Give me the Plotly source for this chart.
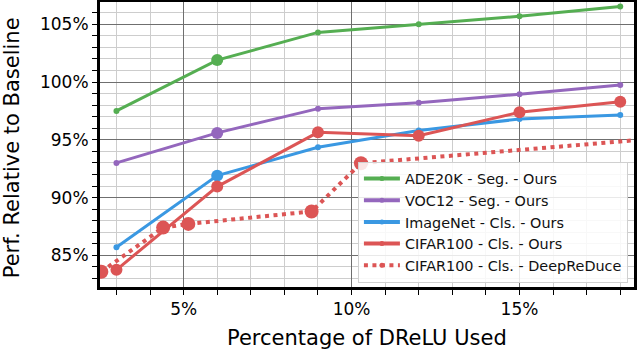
import plotly.graph_objects as go

# DReLU budget (%) used by our runs
drelu_pct = [3, 6, 9, 12, 15, 18]

ade20k_seg = [97.5, 101.9, 104.3, 105.0, 105.7, 106.55]
voc12_seg = [93.0, 95.6, 97.7, 98.2, 98.95, 99.75]
imagenet_cls = [85.7, 91.9, 94.35, 95.8, 96.8, 97.15]
cifar100_cls = [83.75, 90.95, 95.65, 95.35, 97.38, 98.3]

# DeepReDuce baseline on CIFAR100
deepreduce_pct = [2.55, 4.39, 5.14, 8.81, 10.28, 19.0]
deepreduce_perf = [83.58, 87.4, 87.72, 88.8, 92.97, 95.1]

x_ticks = [5, 10, 15]
y_ticks = [85, 90, 95, 100, 105]

FONT = "DejaVu Sans"
GREEN, PURPLE, BLUE, RED = "#55ae52", "#9467bd", "#3a98e2", "#dc5555"

fig = go.Figure()


def add_series(name, xs, ys, color, big_idx, dash="solid", big=12, small_pts=None):
    small_pts = range(len(xs)) if small_pts is None else small_pts
    fig.add_trace(go.Scatter(
        x=xs, y=ys, name=name, mode="lines",
        line=dict(color=color, width=3 if dash == "solid" else 4, dash=dash),
        showlegend=False))
    fig.add_trace(go.Scatter(
        x=[xs[i] for i in small_pts], y=[ys[i] for i in small_pts], mode="markers",
        marker=dict(color=color, size=6), showlegend=False))
    fig.add_trace(go.Scatter(
        x=[xs[i] for i in big_idx], y=[ys[i] for i in big_idx], mode="markers",
        marker=dict(color=color, size=big), showlegend=False))
    # legend entry only
    fig.add_trace(go.Scatter(
        x=[None], y=[None], name=name, mode="lines+markers",
        line=dict(color=color, width=4, dash=dash),
        marker=dict(color=color, size=5)))


add_series("ADE20K - Seg. - Ours", drelu_pct, ade20k_seg, GREEN, [1])
add_series("VOC12 - Seg. - Ours", drelu_pct, voc12_seg, PURPLE, [1])
add_series("ImageNet - Cls. - Ours", drelu_pct, imagenet_cls, BLUE, [1])
add_series("CIFAR100 - Cls. - Ours", drelu_pct, cifar100_cls, RED, [0, 1, 2, 3, 4, 5])
add_series("CIFAR100 - Cls. - DeepReDuce", deepreduce_pct, deepreduce_perf, RED,
           [0, 1, 2, 3, 4], dash="4px,4.5px", big=14, small_pts=[])

axis_common = dict(
    showline=True, linecolor="black", linewidth=3, mirror=True,
    ticks="outside", ticklen=5, tickcolor="black", tickwidth=1,
    showgrid=True, gridcolor="#6f6f6f", gridwidth=1,
    zeroline=False, automargin=False,
    tickfont=dict(family=FONT, size=17, color="black"),
    minor=dict(dtick=1, showgrid=True, gridcolor="#cdcdcd", gridwidth=1,
               ticks="outside", ticklen=5, tickcolor="black"),
)

fig.update_xaxes(
    range=[2.51, 18.41], tickvals=x_ticks, ticktext=[f"{v}%" for v in x_ticks],
    **axis_common)
fig.update_yaxes(
    range=[82.26, 106.93], tickvals=y_ticks, ticktext=[f"{v}%" for v in y_ticks],
    **axis_common)

title_font = dict(family=FONT, size=21, color="black")
fig.add_annotation(text="Percentage of DReLU Used", xref="paper", yref="paper",
                   x=0.5, y=-0.18, xanchor="center", yanchor="middle",
                   showarrow=False, font=title_font)
fig.add_annotation(text="Perf. Relative to Baseline", xref="paper", yref="paper",
                   x=-0.165, y=0.49, xanchor="center", yanchor="middle", textangle=-90,
                   showarrow=False, font=title_font)

fig.update_layout(
    width=640, height=352,
    margin=dict(l=100, r=6, t=2, b=65),
    plot_bgcolor="white", paper_bgcolor="white",
    font=dict(family=FONT, color="black"),
    legend=dict(
        x=0.483, y=0.44, xanchor="left", yanchor="top",
        bgcolor="rgba(255,255,255,0.85)", bordercolor="#d0d0d0", borderwidth=1,
        font=dict(family=FONT, size=14.4, color="#111"),
        itemwidth=36, tracegroupgap=0,
    ),
)

fig.write_html("out.html", config={"displayModeBar": False},
               post_script="document.body.style.margin = '0';")
